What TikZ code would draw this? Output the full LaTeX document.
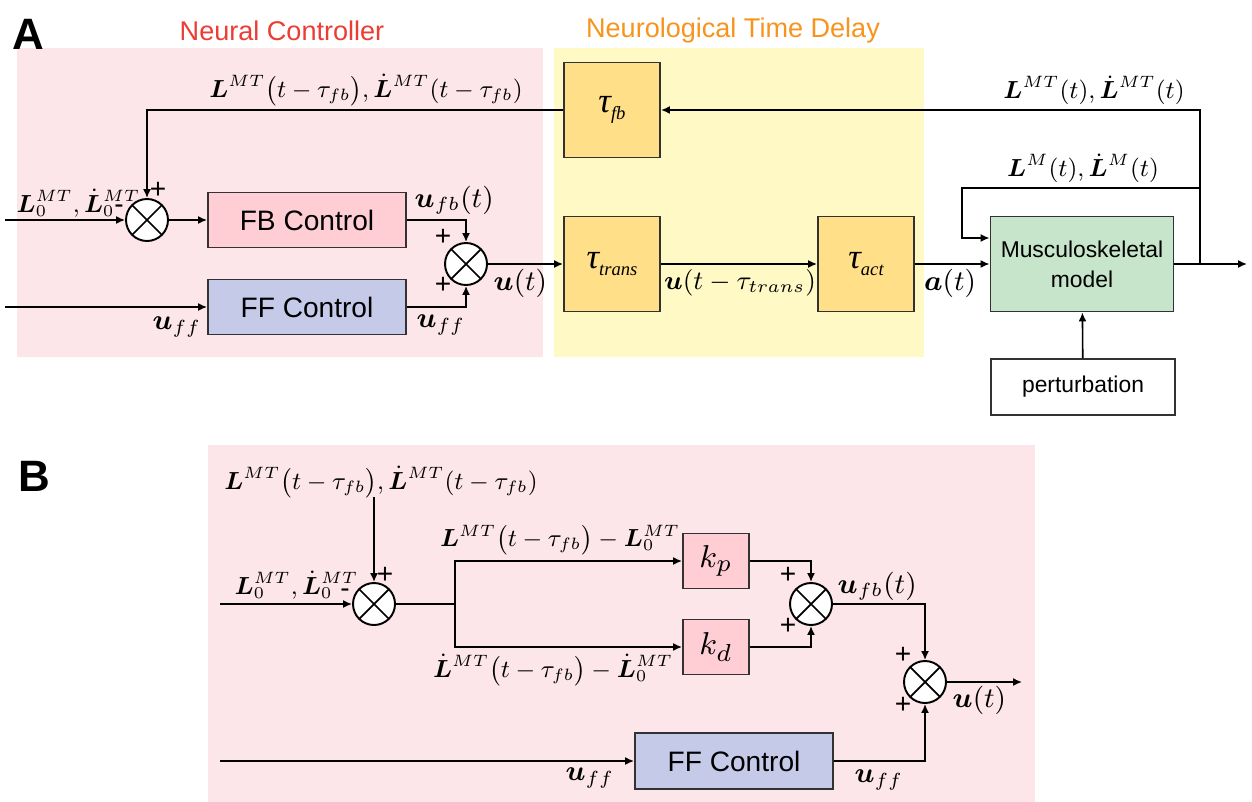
\documentclass[tikz,border=0pt]{standalone}
\usepackage{fontspec}
\usepackage{graphicx}
\usepackage{amsmath,bm}
\newfontfamily\arial{Liberation Sans}
\newfontfamily\timesfont{Liberation Serif}
\usetikzlibrary{arrows.meta,positioning}
\definecolor{ctrlpink}{RGB}{253,230,233}
\definecolor{delayyellow}{RGB}{255,249,198}
\definecolor{fbpink}{RGB}{255,206,213}
\definecolor{fflavender}{RGB}{197,202,233}
\definecolor{taugold}{RGB}{255,223,136}
\definecolor{modelgreen}{RGB}{198,229,202}
\definecolor{titlered}{RGB}{236,60,52}
\definecolor{titleorange}{RGB}{247,148,29}
\definecolor{edgegray}{RGB}{50,50,50}
\newcommand{\taulbl}[1]{{\timesfont\itshape τ\raisebox{-0.45ex}{\fontsize{5.3}{6}\selectfont #1}}}
\newcommand{\Lsig}[1]{\scalebox{0.78}{$#1$}}
\newcommand{\usig}[1]{\scalebox{0.9}{$#1$}}

\begin{document}
\begin{tikzpicture}[x=0.1mm,y=-0.1mm,
    box/.style={draw=edgegray,line width=0.55pt,inner sep=0pt,
                font=\fontsize{8}{9}\selectfont\arial},
    taubox/.style={box,fill=taugold,minimum width=9.6mm,
                   minimum height=9.5mm,font=\fontsize{10}{12}\selectfont},
    sumnode/.style={circle,draw,line width=0.55pt,fill=white,
                    minimum size=4.2mm,inner sep=0pt,
                    path picture={\draw[line width=0.5pt]
                      (path picture bounding box.north west)--
                      (path picture bounding box.south east)
                      (path picture bounding box.north east)--
                      (path picture bounding box.south west);}},
    arr/.style={-{Latex[length=0.9mm,width=0.8mm]},line width=0.45pt},
    ln/.style={line width=0.45pt},
    sig/.style={inner sep=0pt,font=\fontsize{9}{10}\selectfont},
    pm/.style={inner sep=0pt,font=\fontsize{8}{8}\selectfont\arial},
    title/.style={inner sep=0pt,font=\fontsize{7.7}{9}\selectfont\arial},
    panel/.style={inner sep=0pt,font=\fontsize{12.5}{13}\selectfont\arial\bfseries},
  ]
  \useasboundingbox (0,0) rectangle (1252,802);

  % backgrounds
  \fill[ctrlpink] (17,48) rectangle (543,357);
  \fill[delayyellow] (554,48) rectangle (924,357);
  \fill[ctrlpink] (208,445) rectangle (1035,802);

  % ---------- panel A ----------
  \node[panel] (lblA) at (28,34) {A};
  \node[title,text=titlered] (ncTitle) at (282,31) {Neural Controller};
  \node[title,text=titleorange] (ntdTitle) at (733,31) {Neurological Time Delay};

  \node[sumnode] (sA1) at (147,220) {};
  \node[box,fill=fbpink,minimum width=19.8mm,minimum height=5.5mm] (fbA) at (307,220) {FB Control};
  \node[box,fill=fflavender,minimum width=19.8mm,minimum height=5.5mm] (ffA) at (307,307) {FF Control};
  \node[sumnode] (sA2) at (466,264) {};
  \node[taubox] (tfb) at (612,110) {\taulbl{fb}};
  \node[taubox] (ttrans) at (612,264) {\taulbl{trans}};
  \node[taubox] (tact) at (866,264) {\taulbl{act}};
  \node[box,fill=modelgreen,minimum width=18.3mm,minimum height=9.5mm,align=center,
        font=\fontsize{6.5}{8.5}\selectfont\arial] (msk) at (1082,264) {Musculoskeletal\\model};
  \node[box,fill=white,minimum width=18.4mm,minimum height=5.6mm,
        font=\fontsize{6.5}{8}\selectfont\arial] (pert) at (1083,387) {perturbation};

  \coordinate (inA1) at (5,220);
  \coordinate (inA2) at (5,307);
  \coordinate (outA) at (1247,264);
  \coordinate (tapA) at (1200,264);
  \coordinate (brA) at (1200,188);
  \coordinate (loopA) at (962,188);

  \draw[arr] (inA1) -- (sA1);
  \draw[arr] (sA1) -- (fbA);
  \draw[arr] (fbA.east) -| (sA2.north);
  \draw[arr] (inA2) -- (ffA);
  \draw[arr] (ffA.east) -| (sA2.south);
  \draw[arr] (sA2) -- (ttrans);
  \draw[arr] (ttrans) -- (tact);
  \draw[arr] (tact) -- (msk);
  \draw[arr] (msk.east) -- (outA);
  \draw[arr] (tapA) |- (tfb.east);
  \draw[arr] (tfb.west) -| (sA1.north);
  \draw[arr] (brA) -- (loopA) |- ([yshift=2.6mm]msk.west);
  \draw[arr] (pert) -- (msk);

  \node[sig,anchor=west] (lA0) at (16,203) {\Lsig{\bm{L}_0^{MT},\dot{\bm{L}}{}_0^{MT}}};
  \node[pm] (mA1) at (119,209) {-};
  \node[pm] (pA1) at (158,190) {+};
  \node[sig] (lfbA) at (366,90) {\Lsig{\bm{L}^{MT}\big(t-\tau_{fb}\big),\dot{\bm{L}}{}^{MT}(t-\tau_{fb})}};
  \node[sig,anchor=west] (lufbA) at (414,200) {\usig{\bm{u}_{fb}(t)}};
  \node[pm] (pA2) at (443,237) {+};
  \node[pm] (pA3) at (443,285) {+};
  \node[sig] (luffA1) at (177,327) {\usig{\bm{u}_{ff}}};
  \node[sig] (luffA2) at (441,325) {\usig{\bm{u}_{ff}}};
  \node[sig,anchor=west] (luA) at (493,283) {\usig{\bm{u}(t)}};
  \node[sig] (lutr) at (740,283) {\scalebox{0.84}{$\bm{u}(t-\tau_{trans})$}};
  \node[sig] (la) at (950,283) {\usig{\bm{a}(t)}};
  \node[sig] (lmt) at (1094,90) {\Lsig{\bm{L}^{MT}(t),\dot{\bm{L}}{}^{MT}(t)}};
  \node[sig] (lm) at (1083,168) {\Lsig{\bm{L}^{M}(t),\dot{\bm{L}}{}^{M}(t)}};

  % ---------- panel B ----------
  \node[panel] (lblB) at (34,476) {B};

  \node[sumnode] (sB1) at (374,604) {};
  \node[box,fill=fbpink,minimum width=6.6mm,minimum height=5.5mm,
        font=\fontsize{9.5}{10}\selectfont] (kp) at (716,561) {$k_p$};
  \node[box,fill=fbpink,minimum width=6.6mm,minimum height=5.5mm,
        font=\fontsize{9.5}{10}\selectfont] (kd) at (716,647) {$k_d$};
  \node[sumnode] (sB2) at (811,604) {};
  \node[sumnode] (sB3) at (925,682) {};
  \node[box,fill=fflavender,minimum width=19.8mm,minimum height=5.6mm] (ffB) at (734,761) {FF Control};

  \coordinate (inB1) at (220,604);
  \coordinate (inB2) at (220,761);
  \coordinate (fbB) at (374,497);
  \coordinate (brB) at (455,604);
  \coordinate (outB) at (1022,682);

  \draw[arr] (inB1) -- (sB1);
  \draw[arr] (fbB) -- (sB1);
  \draw[ln] (sB1) -- (brB);
  \draw[arr] (brB) |- (kp);
  \draw[arr] (brB) |- (kd);
  \draw[arr] (kp) -| (sB2.north);
  \draw[arr] (kd) -| (sB2.south);
  \draw[arr] (sB2) -| (sB3.north);
  \draw[arr] (inB2) -- (ffB);
  \draw[arr] (ffB) -| (sB3.south);
  \draw[arr] (sB3) -- (outB);

  \node[sig] (lfbB) at (381,482) {\Lsig{\bm{L}^{MT}\big(t-\tau_{fb}\big),\dot{\bm{L}}{}^{MT}(t-\tau_{fb})}};
  \node[sig,anchor=west] (lB0) at (234,585) {\Lsig{\bm{L}_0^{MT},\dot{\bm{L}}{}_0^{MT}}};
  \node[pm] (mB1) at (345,593) {-};
  \node[pm] (pB1) at (385,575) {+};
  \node[sig] (lerr) at (560,540) {\Lsig{\bm{L}^{MT}\big(t-\tau_{fb}\big)-\bm{L}_0^{MT}}};
  \node[sig] (lderr) at (553,670) {\Lsig{\dot{\bm{L}}{}^{MT}\big(t-\tau_{fb}\big)-\dot{\bm{L}}{}_0^{MT}}};
  \node[pm] (pB2) at (788,575) {+};
  \node[pm] (pB3) at (788,626) {+};
  \node[sig,anchor=west] (lufbB) at (837,586) {\usig{\bm{u}_{fb}(t)}};
  \node[pm] (pB4) at (903,655) {+};
  \node[pm] (pB5) at (903,705) {+};
  \node[sig,anchor=west] (luB) at (952,700) {\usig{\bm{u}(t)}};
  \node[sig] (luffB1) at (590,778) {\usig{\bm{u}_{ff}}};
  \node[sig] (luffB2) at (879,780) {\usig{\bm{u}_{ff}}};
\end{tikzpicture}
\end{document}
